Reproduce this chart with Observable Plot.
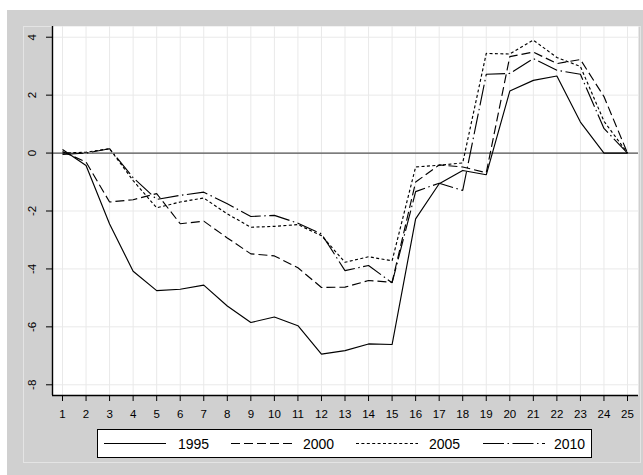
<!DOCTYPE html>
<html>
<head>
<meta charset="utf-8">
<script src="https://cdn.jsdelivr.net/npm/d3@7"></script>
<script src="https://cdn.jsdelivr.net/npm/@observablehq/plot@0.6"></script>
<style>
  html, body { margin: 0; padding: 0; background: #ffffff; }
  #page { position: relative; width: 643px; height: 475px; overflow: hidden; background: #ffffff; }
  #outer { position: absolute; left: 7px; top: 10px; width: 636px; height: 465px; background: #d0d0d0; }
  #inner { position: absolute; left: 23px; top: 26px; width: 618px; height: 437px; box-sizing: border-box; border: 1px solid #e4e4e4; }
  #chart { position: absolute; left: 0; top: 0; }
  #legend { position: absolute; left: 97px; top: 429px; width: 495px; height: 29px; box-sizing: border-box; border: 1px solid #000; background: #fff; font-family: "Liberation Sans Narrow", "Arial Narrow", "Liberation Sans", sans-serif; font-size: 14px; color: #000; }
  .item-line { position: absolute; top: 0; }
  .item-text { position: absolute; top: 6px; line-height: 16px; }
</style>
</head>
<body>
<div id="page">
  <div id="outer"></div>
  <div id="inner"></div>
  <div id="chart"></div>
  <div id="legend"></div>
</div>
<script>
const period = [1,2,3,4,5,6,7,8,9,10,11,12,13,14,15,16,17,18,19,20,21,22,23,24,25];
const yTicks = [-8,-6,-4,-2,0,2,4];
const seriesNames = ["1995","2000","2005","2010"];

const v1995 = [0.12,-0.43,-2.45,-4.08,-4.75,-4.70,-4.56,-5.28,-5.85,-5.66,-5.96,-6.94,-6.82,-6.59,-6.61,-2.27,-1.06,-0.60,-0.75,2.14,2.51,2.66,1.07,0.0,0.0];
const v2000 = [0.05,-0.31,-1.69,-1.61,-1.40,-2.44,-2.35,-2.93,-3.48,-3.55,-3.96,-4.64,-4.63,-4.40,-4.46,-1.00,-0.41,-0.48,-0.68,3.33,3.49,3.09,3.23,1.95,0.0];
const v2005 = [0.0,0.03,0.15,-0.95,-1.89,-1.69,-1.55,-2.10,-2.56,-2.53,-2.47,-2.85,-3.77,-3.58,-3.72,-0.48,-0.42,-0.34,3.44,3.42,3.90,3.30,2.99,1.10,0.0];
const v2010 = [-0.05,0.0,0.15,-0.85,-1.60,-1.46,-1.35,-1.75,-2.19,-2.15,-2.42,-2.79,-4.06,-3.88,-4.48,-1.33,-1.04,-1.29,2.72,2.75,3.26,2.86,2.72,0.85,0.0];

const seriesValues = [v1995, v2000, v2005, v2010];
const dashes = [null, "9,4", "3,2.4", "21,3.5,1.5,3.5"];

const xDomain = [0.575, 25.467];
const yDomain = [-8.37, 4.37];

const lineMarks = seriesValues.map((vals, k) =>
  Plot.line(vals, {
    x: (d, i) => period[i],
    y: d => d,
    stroke: "#000",
    strokeWidth: 1.15,
    strokeDasharray: dashes[k] ?? undefined,
    strokeLinecap: "butt",
    strokeLinejoin: "miter"
  })
);

const chart = Plot.plot({
  width: 643,
  height: 425,
  marginLeft: 52,
  marginRight: 5,
  marginTop: 26,
  marginBottom: 30,
  x: {domain: xDomain},
  y: {domain: yDomain},
  style: {
    background: "transparent",
    fontFamily: "'Liberation Sans Narrow', 'Arial Narrow', 'Liberation Sans', sans-serif",
    fontSize: "11.5px",
    color: "#000",
    overflow: "visible"
  },
  marks: [
    Plot.frame({fill: "#ffffff"}),
    Plot.gridX(period, {stroke: "#e9e9e9", strokeOpacity: 1, strokeWidth: 1}),
    Plot.gridY(yTicks, {stroke: "#e9e9e9", strokeOpacity: 1, strokeWidth: 1}),
    Plot.ruleY([0], {stroke: "#555555", strokeWidth: 1.3}),
    ...lineMarks,
    Plot.ruleX([xDomain[0]], {stroke: "#000", strokeWidth: 1.4}),
    Plot.ruleY([yDomain[0]], {stroke: "#000", strokeWidth: 1.4}),
    Plot.axisX(period, {tickSize: 6, tickPadding: 8, label: null, tickFormat: d => String(d), stroke: "#000"}),
    Plot.axisY(yTicks, {tickSize: 6, tickPadding: 11, tickRotate: -90, label: null, tickFormat: d => String(d), stroke: "#000"})
  ]
});
document.getElementById("chart").appendChild(chart);

// Legend
const legend = document.getElementById("legend");
const legendLayout = [
  {lx: 6, tx: 80},
  {lx: 133, tx: 205},
  {lx: 258, tx: 331},
  {lx: 385, tx: 456}
];
seriesNames.forEach((name, k) => {
  const pos = legendLayout[k];
  const svgNS = "http://www.w3.org/2000/svg";
  const s = document.createElementNS(svgNS, "svg");
  s.setAttribute("width", 62);
  s.setAttribute("height", 27);
  s.setAttribute("class", "item-line");
  s.style.left = pos.lx + "px";
  const ln = document.createElementNS(svgNS, "line");
  ln.setAttribute("x1", 0); ln.setAttribute("x2", 62);
  ln.setAttribute("y1", 13.5); ln.setAttribute("y2", 13.5);
  ln.setAttribute("stroke", "#000");
  ln.setAttribute("stroke-width", 1.15);
  if (dashes[k]) ln.setAttribute("stroke-dasharray", dashes[k]);
  s.appendChild(ln);
  legend.appendChild(s);
  const t = document.createElement("div");
  t.className = "item-text";
  t.style.left = pos.tx + "px";
  t.textContent = name;
  legend.appendChild(t);
});
</script>
</body>
</html>
